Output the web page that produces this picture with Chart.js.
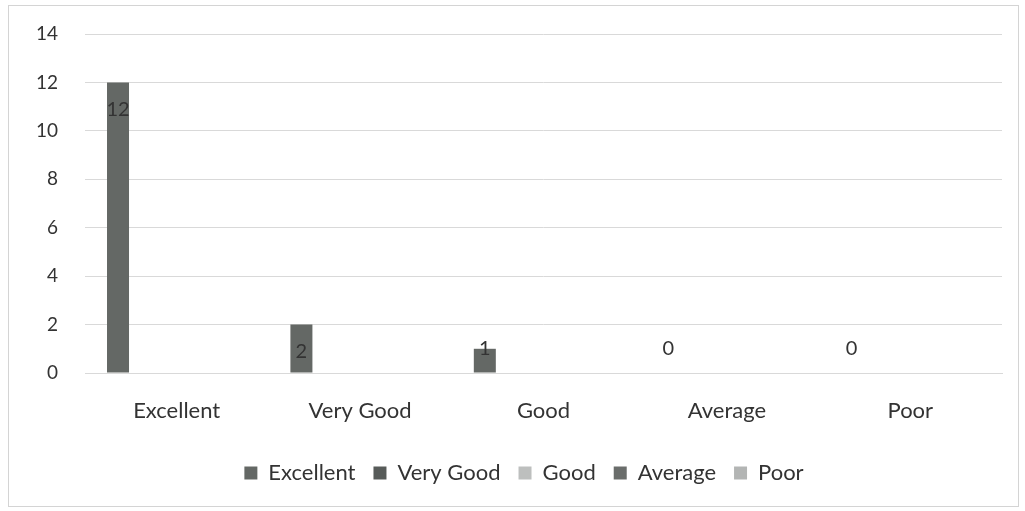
<!DOCTYPE html>
<html>
<head>
<meta charset="utf-8">
<script src="https://cdn.jsdelivr.net/npm/chart.js@4.4.1/dist/chart.umd.min.js"></script>
<style>
  html, body { margin: 0; padding: 0; background: #ffffff; }
  #wrap { width: 1025px; height: 511px; }
</style>
</head>
<body>
<div id="wrap"><canvas id="ratingChart" width="1025" height="511"></canvas></div>
<script>
const categories = ["Excellent", "Very Good", "Good", "Average", "Poor"];
const seriesNames = ["Excellent", "Very Good", "Good", "Average", "Poor"];
const excellentVals = [12, 2, 1, 0, 0];
const veryGoodVals = [null, null, null, null, null];
const goodVals = [null, null, null, null, null];
const averageVals = [null, null, null, null, null];
const poorVals = [null, null, null, null, null];
const seriesColors = ["#646865", "#575b59", "#bdbfbe", "#6a6d6b", "#b3b5b4"];
const yTicks = [0, 2, 4, 6, 8, 10, 12, 14];

const ratingCtx = document.getElementById('ratingChart').getContext('2d');
const fontName = "Lato, 'Open Sans', sans-serif";
const plotTop = 34;

// frame, value labels of the first series, and a small layout nudge
const labelPlugin = {
  id: 'labels',
  afterLayout(chart){
    const ys = chart.scales.y;
    ys.top = plotTop;
    ys.height = ys.bottom - plotTop;
    ys.configure();
    chart.chartArea.top = plotTop;
    chart.chartArea.height = chart.chartArea.bottom - plotTop;
    // legend sits a bit right of centre in the original
    chart.legend.left += 23;
    chart.legend.right += 23;
  },
  beforeDraw(chart){
    const c = chart.ctx;
    c.save();
    c.fillStyle = '#ffffff';
    c.fillRect(0, 0, chart.width, chart.height);
    c.strokeStyle = '#d4d4d4';
    c.lineWidth = 1;
    c.strokeRect(8.5, 5.5, 1010, 501);
    c.restore();
  },
  afterDatasetsDraw(chart){
    const c = chart.ctx;
    const meta = chart.getDatasetMeta(0);
    c.save();
    c.font = "20px " + fontName;
    c.fillStyle = '#333333';
    c.textAlign = 'center';
    c.textBaseline = 'middle';
    meta.data.forEach((bar, i) => {
      const v = excellentVals[i];
      if(v === null) return;
      const y = v >= 2 ? bar.y + 27 : chart.chartArea.bottom - 24;
      c.fillText(String(v), bar.x, y);
    });
    c.restore();
  }
};

const allVals = [excellentVals, veryGoodVals, goodVals, averageVals, poorVals];

const ratingChart = new Chart(ratingCtx, {
  type: 'bar',
  data: {
    labels: categories,
    datasets: seriesNames.map((name, i) => ({
      label: name,
      data: allVals[i],
      backgroundColor: seriesColors[i],
      borderWidth: 0,
      categoryPercentage: 0.8,
      barPercentage: 0.75
    }))
  },
  options: {
    responsive: false,
    animation: false,
    layout: { padding: { left: 0, right: 23, top: 22, bottom: 17 } },
    plugins: {
      tooltip: { enabled: false },
      legend: {
        position: 'bottom',
        labels: {
          boxWidth: 13,
          boxHeight: 13,
          padding: 18,
          color: '#333333',
          font: { family: fontName, size: 22 }
        }
      }
    },
    scales: {
      x: {
        grid: { display: false, drawTicks: false },
        border: { display: true, color: '#d9d9d9' },
        ticks: { color: '#333333', padding: 25, font: { family: fontName, size: 22 } },
        afterFit: axis => { axis.height = 71; }
      },
      y: {
        min: 0,
        max: 14,
        afterBuildTicks: axis => { axis.ticks = yTicks.map(v => ({ value: v })); },
        grid: { color: '#d9d9d9', drawTicks: false },
        border: { display: false },
        ticks: { color: '#333333', padding: 27, font: { family: fontName, size: 19 } },
        afterFit: axis => { axis.width = 85; }
      }
    }
  },
  plugins: [labelPlugin]
});
</script>
</body>
</html>
